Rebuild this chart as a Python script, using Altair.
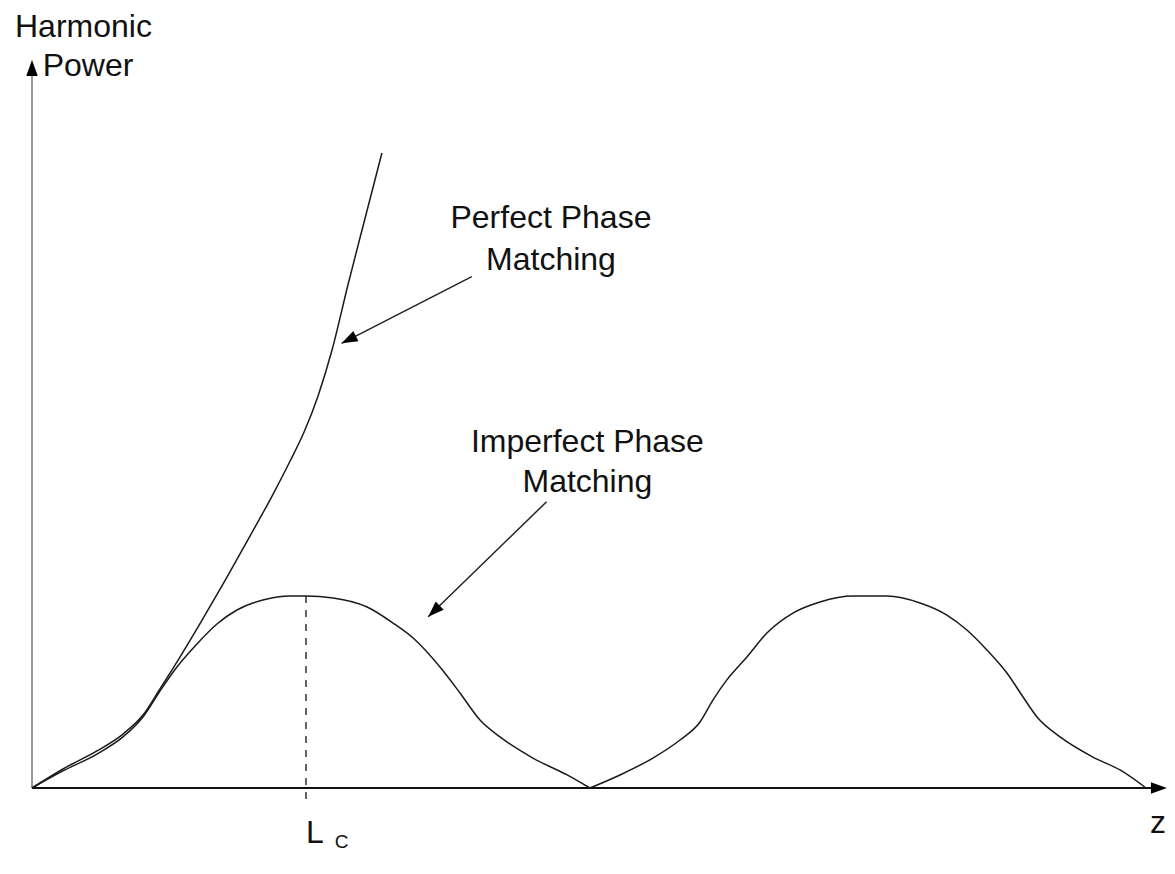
import altair as alt
import pandas as pd

# ---- data (z in units of Lc, power normalised to the first maximum) ----
z_perfect = [0.000, 0.113, 0.237, 0.332, 0.405, 0.467, 0.540, 0.617, 0.708, 0.796,
             0.880, 0.942, 0.993, 1.044, 1.095, 1.153, 1.212, 1.277]
p_perfect = [0.000, 0.099, 0.193, 0.281, 0.380, 0.516, 0.682, 0.865, 1.089, 1.313,
             1.531, 1.703, 1.854, 2.042, 2.281, 2.620, 2.948, 3.307]

# imperfect phase matching: first coherence period
z_imp_1 = [0.000, 0.113, 0.237, 0.332, 0.405, 0.467, 0.529, 0.602, 0.675, 0.748,
           0.843, 0.942, 1.000, 1.099, 1.223, 1.318, 1.391, 1.489, 1.562, 1.635,
           1.708, 1.828, 1.953, 2.036]
p_imp_1 = [0.000, 0.089, 0.177, 0.266, 0.370, 0.505, 0.630, 0.750, 0.854, 0.927,
           0.979, 1.000, 1.000, 0.990, 0.943, 0.859, 0.781, 0.630, 0.495, 0.354,
           0.266, 0.156, 0.068, 0.000]
# imperfect phase matching: second coherence period
z_imp_2 = [2.036, 2.146, 2.266, 2.365, 2.438, 2.485, 2.536, 2.609, 2.682, 2.777, 2.876,
           2.996, 3.069, 3.120, 3.241, 3.339, 3.412, 3.485, 3.558, 3.617, 3.668,
           3.752, 3.872, 3.971, 4.066]
p_imp_2 = [0.000, 0.068, 0.156, 0.250, 0.344, 0.458, 0.563, 0.682, 0.807, 0.911, 0.969,
           1.000, 1.000, 1.000, 0.964, 0.901, 0.823, 0.719, 0.599, 0.474, 0.370,
           0.266, 0.161, 0.094, 0.000]

coherence_length = 1.0
coherence_peak = 1.0

label_text = ["Harmonic", "Power", "Perfect Phase", "Matching",
              "Imperfect Phase", "Matching"]
label_z = [-0.062, 0.039, 1.894, 1.894, 2.027, 2.027]
label_p = [3.911, 3.708, 2.915, 2.698, 1.752, 1.543]
label_align = ["left", "left", "center", "center", "center", "center"]

# annotation arrows: start -> tip
arrow_z1 = [1.605, 1.878]
arrow_p1 = [2.663, 1.491]
arrow_z2 = [1.130, 1.446]
arrow_p2 = [2.316, 0.892]

W, H = 1159, 845
xs = alt.Scale(domain=[-0.0876, 4.1423], nice=False, zero=False)
ys = alt.Scale(domain=[-0.3385, 4.0625], nice=False, zero=False)
X = lambda f: alt.X(f, type="quantitative", scale=xs, axis=None)
Y = lambda f: alt.Y(f, type="quantitative", scale=ys, axis=None)

line_style = dict(color="#1a1a1a", strokeWidth=1.5, interpolate="monotone")

df_perf = pd.DataFrame({"z": z_perfect, "p": p_perfect})
df_imp = pd.concat([
    pd.DataFrame({"z": z_imp_1, "p": p_imp_1, "period": 1}),
    pd.DataFrame({"z": z_imp_2, "p": p_imp_2, "period": 2}),
])

perf = alt.Chart(df_perf).mark_line(**line_style).encode(x=X("z"), y=Y("p"))
imp = alt.Chart(df_imp).mark_line(**line_style).encode(
    x=X("z"), y=Y("p"), detail="period:N")

dash = alt.Chart(pd.DataFrame({"z": [coherence_length], "p1": [coherence_peak], "p2": [-0.0625]})).mark_rule(
    color="#333333", strokeWidth=1.5, strokeDash=[7, 7]).encode(x=X("z"), y=Y("p1"), y2="p2")

xaxis = alt.Chart(pd.DataFrame({"z1": [0.0], "z2": [4.10], "p": [0.0]})).mark_rule(
    color="#111111", strokeWidth=2).encode(x=X("z1"), x2="z2", y=Y("p"))
yaxis = alt.Chart(pd.DataFrame({"z": [0.0], "p1": [0.0], "p2": [3.72]})).mark_rule(
    color="#999999", strokeWidth=2).encode(x=X("z"), y=Y("p1"), y2="p2")

arrows = alt.Chart(pd.DataFrame({"z1": arrow_z1, "p1": arrow_p1, "z2": arrow_z2, "p2": arrow_p2})).mark_rule(
    color="#222222", strokeWidth=1.5).encode(x=X("z1"), y=Y("p1"), x2="z2", y2="p2")

heads_df = pd.DataFrame({
    "z": arrow_z2 + [0.0, 4.142],
    "p": arrow_p2 + [3.792, 0.0],
    "angle": [242.9, 225.8, 0.0, 90.0],
})
heads = alt.Chart(heads_df).mark_point(
    shape="M0,0L0.72,2L-0.72,2Z", filled=True, size=256, color="black", opacity=1, strokeWidth=0
).encode(x=X("z"), y=Y("p"), angle=alt.Angle("angle:Q", scale=None))

font = dict(font="Liberation Sans", color="#111111", baseline="alphabetic")
lab_df = pd.DataFrame({"t": label_text, "z": label_z, "p": label_p, "a": label_align})
texts = []
for al in ["left", "center"]:
    texts.append(alt.Chart(lab_df[lab_df.a == al]).mark_text(align=al, fontSize=32, **font).encode(
        x=X("z"), y=Y("p"), text="t:N"))

zlab = alt.Chart(pd.DataFrame({"t": ["z"], "z": [4.139], "p": [-0.234]})).mark_text(
    align="right", fontSize=32, **font).encode(x=X("z"), y=Y("p"), text="t:N")
lc = alt.Chart(pd.DataFrame({"t": ["L"], "z": [1.0], "p": [-0.286]})).mark_text(
    align="left", fontSize=32, **font).encode(x=X("z"), y=Y("p"), text="t:N")
sub = alt.Chart(pd.DataFrame({"t": ["C"], "z": [1.105], "p": [-0.313]})).mark_text(
    align="left", fontSize=19, **font).encode(x=X("z"), y=Y("p"), text="t:N")

chart = alt.layer(yaxis, xaxis, dash, perf, imp, arrows, heads, *texts, zlab, lc, sub).properties(
    width=W, height=H, padding=0, autosize=alt.AutoSizeParams(type="none")
).configure_view(stroke=None)

chart.save("out.html", embed_options={"renderer": "svg", "actions": False})
